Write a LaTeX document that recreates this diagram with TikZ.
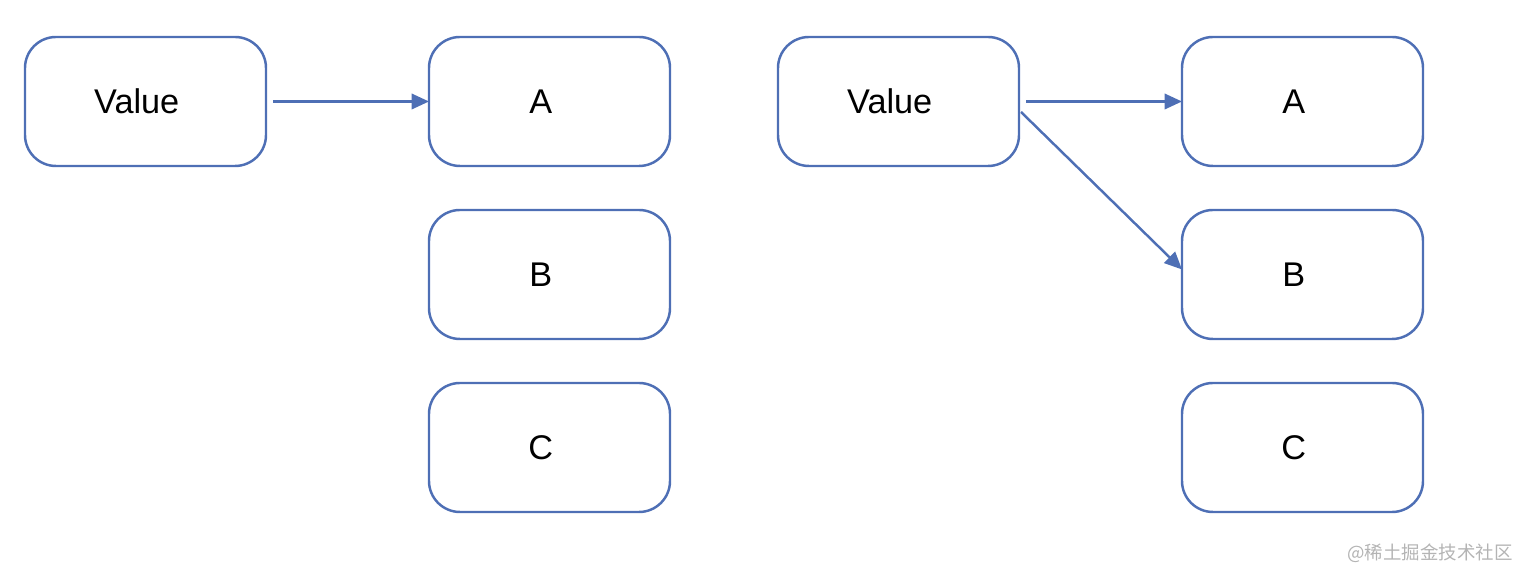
\documentclass[tikz,border=0pt]{standalone}
\usepackage{fontspec}
\setmainfont{Liberation Sans}
\newfontfamily\cjk{Noto Sans CJK SC}
\usetikzlibrary{arrows.meta,positioning}
\definecolor{cBox}{HTML}{4E6FB5}
\definecolor{cMark}{HTML}{B4B4B4}

\begin{document}
\begin{tikzpicture}[
    font=\fontsize{19.5}{23}\selectfont,
    box/.style={draw=cBox, line width=1.4pt, rounded corners=0.62cm, minimum width=4.82cm, minimum height=2.58cm,
      inner sep=0pt, outer sep=0pt, execute at end node={\hspace*{0.35cm}}},
    arr/.style={-{Triangle[length=3.5mm,width=3.1mm]}, line width=1.4pt, cBox},
    node distance=0.88cm and 3.26cm,
  ]
  \useasboundingbox (0,0) rectangle (30.56,11.64);
  % --- left: one target ---
  \node[box] (val1) at (2.91,9.61) {Value};
  \node[box, right=of val1] (a1) {A};
  \node[box, below=of a1] (b1) {B};
  \node[box, below=of b1] (c1) {C};

  % --- right: two targets ---
  \node[box] (val2) at (17.97,9.61) {Value};
  \node[box, right=of val2] (a2) {A};
  \node[box, below=of a2] (b2) {B};
  \node[box, below=of b2] (c2) {C};

  % --- watermark ---
  \node[text=cMark, font=\cjk\fontsize{10.5}{12}\selectfont] (mark) at (28.6,0.58) {@稀土掘金技术社区};

  % --- arrows ---
  \draw[arr] ([xshift=1.4mm]val1.east) -- (a1.west);
  \draw[arr] ([xshift=1.4mm]val2.east) -- (a2.west);
  \draw[arr] ([xshift=0.4mm,yshift=-2.1mm]val2.east) -- ([yshift=1mm]b2.west);
\end{tikzpicture}
\end{document}
